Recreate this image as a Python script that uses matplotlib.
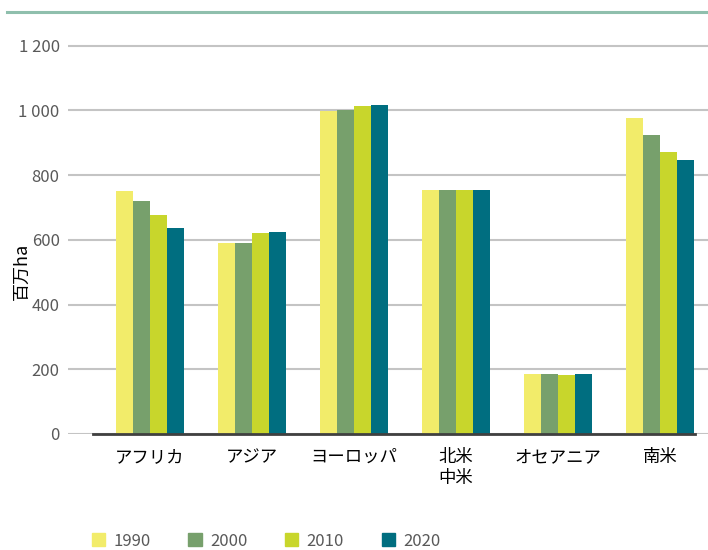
import matplotlib.pyplot as plt
import matplotlib.patches as mpatches
import numpy as np

plt.rcParams['font.family'] = ['Noto Sans CJK JP', 'DejaVu Sans']

# 地域と年
regions = ["アフリカ", "アジア", "ヨーロッパ", "北米\n中米", "オセアニア", "南米"]
years = ["1990", "2000", "2010", "2020"]
colors = ["#f2ec6a", "#77a06c", "#c8d62c", "#006e80"]

# 森林面積 (百万ha)
area_1990 = [750, 590, 997, 755, 186, 978]
area_2000 = [720, 590, 1003, 755, 186, 923]
area_2010 = [676, 620, 1014, 755, 181, 873]
area_2020 = [637, 625, 1016, 755, 185, 848]
series = [area_1990, area_2000, area_2010, area_2020]

W, H = 708, 550
fig = plt.figure(figsize=(W / 100, H / 100), dpi=100)
ax = fig.add_axes([68 / W, (H - 434) / H, (708 - 68) / W, (434 - 27) / H])

x = np.arange(len(regions))
bw = 0.166
for i, vals in enumerate(series):
    ax.bar(x + (i - 1.5) * bw, vals, width=bw, color=colors[i], zorder=3)

ax.set_xlim(-0.804, 5.47)
ax.set_ylim(0, 1258)
ax.set_yticks(range(0, 1201, 200))
ax.set_yticklabels(["0", "200", "400", "600", "800", "1 000", "1 200"])
ax.yaxis.grid(True, color="#c4c4c4", linewidth=1.5, zorder=0)
ax.tick_params(axis="y", length=0, pad=6, labelsize=12, labelcolor="#595959")
ax.tick_params(axis="x", length=0, pad=10, labelsize=12.5)
ax.set_xticks(x)
ax.set_xticklabels(regions)
for s in ax.spines.values():
    s.set_visible(False)

# 0 の軸線
ax.plot([-0.56, 5.34], [0, 0], color="#404040", linewidth=2, zorder=4, clip_on=False)

ax.set_ylabel("百万ha", fontsize=13)
ax.yaxis.set_label_coords(-0.058, 0.4)

# 上部の線
fig.add_artist(plt.Line2D([7 / W, 1], [1 - 12 / H, 1 - 12 / H], color="#8fbfad", linewidth=2.2))

handles = [mpatches.Patch(color=c, label=y) for c, y in zip(colors, years)]
leg = fig.legend(handles=handles, loc="center left", bbox_to_anchor=(92 / W, 1 - 541 / H),
                 ncol=4, frameon=False, fontsize=12, handlelength=0.8, handleheight=0.8,
                 columnspacing=2.25, handletextpad=0.5, borderpad=0, borderaxespad=0)
for t in leg.get_texts():
    t.set_color("#595959")

fig.savefig("out.png", dpi=100)
